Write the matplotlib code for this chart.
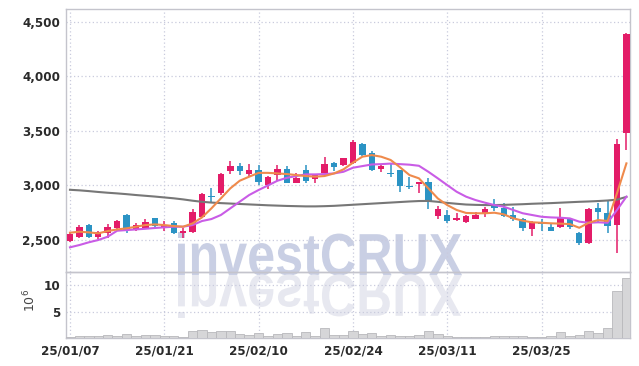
import matplotlib
matplotlib.use("Agg")
import matplotlib.pyplot as plt
import numpy as np
from matplotlib import font_manager as fm
from matplotlib.textpath import TextPath
from matplotlib.patches import PathPatch
from matplotlib.font_manager import FontProperties
from matplotlib.transforms import Affine2D

# ===== DADOS =====
abertura = [2494, 2530, 2637, 2530, 2560, 2610, 2730, 2600, 2607, 2700,
            2610, 2655, 2560, 2576, 2710, 2905, 2928, 3135, 3180, 3105,
            3140, 3000, 3093, 3148, 3025, 3140, 3063, 3115, 3207, 3185,
            3203, 3380, 3294, 3153, 3115, 3140, 2995, 3015, 3035, 2722,
            2730, 2680, 2663, 2695, 2738, 2820, 2796, 2730, 2690, 2600,
            2668, 2617, 2622, 2690, 2560, 2475, 2790, 2750, 2637, 3480]
maxima = [2560, 2635, 2645, 2585, 2645, 2680, 2740, 2655, 2690, 2705,
          2675, 2670, 2612, 2780, 2930, 2980, 3115, 3225, 3205, 3195,
          3190, 3085, 3187, 3177, 3115, 3187, 3100, 3258, 3215, 3255,
          3415, 3390, 3318, 3185, 3208, 3145, 3080, 3035, 3065, 2810,
          2775, 2745, 2730, 2760, 2805, 2872, 2836, 2800, 2700, 2670,
          2690, 2650, 2790, 2700, 2570, 2790, 2836, 2866, 3425, 4395]
minima = [2485, 2520, 2515, 2512, 2515, 2600, 2560, 2585, 2600, 2610,
          2585, 2555, 2515, 2565, 2700, 2835, 2915, 3105, 3095, 3085,
          3000, 2965, 3043, 3020, 3020, 3025, 3020, 3110, 3135, 3180,
          3200, 3270, 3135, 3125, 3080, 2943, 2970, 2935, 2785, 2690,
          2660, 2670, 2655, 2690, 2713, 2768, 2713, 2670, 2585, 2537,
          2585, 2580, 2610, 2598, 2455, 2465, 2668, 2560, 2378, 3325]
fechamento = [2555, 2615, 2530, 2570, 2615, 2675, 2595, 2640, 2665, 2630,
              2637, 2560, 2585, 2760, 2920, 2895, 3105, 3177, 3135, 3140,
              3035, 3075, 3148, 3025, 3065, 3043, 3093, 3195, 3170, 3248,
              3395, 3278, 3140, 3177, 3107, 2997, 2985, 3030, 2845, 2784,
              2677, 2700, 2720, 2730, 2780, 2790, 2724, 2690, 2607, 2662,
              2645, 2585, 2700, 2617, 2470, 2780, 2760, 2632, 3380, 4390]

# medias moveis
mm_curta = [2567, 2576, 2570, 2561, 2582, 2597, 2607, 2622, 2637, 2643,
            2637, 2628, 2622, 2652, 2707, 2790, 2881, 2973, 3043, 3080,
            3115, 3115, 3110, 3104, 3095, 3086, 3080, 3086, 3110, 3147,
            3208, 3263, 3278, 3263, 3233, 3166, 3095, 3065, 2973, 2881,
            2820, 2775, 2748, 2745, 2745, 2750, 2735, 2699, 2677, 2662,
            2658, 2653, 2650, 2646, 2612, 2658, 2683, 2674, 2928, 3202]
mm_media = [2433, 2454, 2479, 2500, 2530, 2585, 2591, 2597, 2603, 2610,
            2616, 2622, 2622, 2637, 2674, 2692, 2729, 2790, 2851, 2912,
            2958, 3000, 3043, 3070, 3086, 3101, 3101, 3104, 3110, 3125,
            3162, 3177, 3192, 3195, 3200, 3195, 3190, 3180, 3125, 3065,
            3003, 2942, 2897, 2866, 2842, 2820, 2805, 2775, 2745, 2729,
            2713, 2707, 2704, 2698, 2668, 2658, 2662, 2658, 2775, 2897]
mm_longa = [2960, 2955, 2948, 2940, 2933, 2927, 2920, 2912, 2905, 2898,
            2890, 2882, 2872, 2860, 2850, 2843, 2838, 2834, 2830, 2826,
            2822, 2818, 2815, 2812, 2810, 2808, 2808, 2810, 2813, 2818,
            2823, 2828, 2833, 2838, 2843, 2848, 2853, 2857, 2858, 2850,
            2840, 2832, 2825, 2822, 2820, 2820, 2822, 2825, 2828, 2832,
            2835, 2838, 2842, 2846, 2850, 2853, 2857, 2862, 2870, 2895]

volume = [0.2, 0.4, 0.4, 0.4, 0.6, 0.4, 0.8, 0.45, 0.6, 0.6,
          0.45, 0.4, 0.2, 1.35, 1.55, 1.2, 1.35, 1.35, 0.85, 0.6,
          0.95, 0.4, 0.85, 0.95, 0.4, 1.15, 0.45, 1.9, 0.6, 0.6,
          1.35, 0.85, 0.95, 0.45, 0.65, 0.4, 0.4, 0.65, 1.35, 0.85,
          0.45, 0.2, 0.2, 0.2, 0.2, 0.4, 0.4, 0.4, 0.4, 0.2,
          0.2, 0.45, 1.15, 0.4, 0.65, 1.35, 0.95, 1.84, 8.9, 11.35]

pos_datas = [0, 10, 20, 30, 40, 50]
rotulos_datas = ["25/01/07", "25/01/21", "25/02/10", "25/02/24", "25/03/11", "25/03/25"]
ticks_preco = [2500, 3000, 3500, 4000, 4500]
ticks_volume = [5, 10]

# ===== ESTILO =====
cor_alta = "#e31c68"
cor_baixa = "#2b93c4"
cor_grade = "#c9cbdd"
cor_borda = "#c4c4cc"

# fonte estreita para os rotulos, se existir
nomes = {f.name for f in fm.fontManager.ttflist}
condensadas = [f.fname for f in fm.fontManager.ttflist
               if "Condensed" in f.fname and "Bold" in f.fname
               and "Oblique" not in f.fname and "Italic" not in f.fname]
if "Liberation Sans Narrow" in nomes:
    fp_rot = FontProperties(family="Liberation Sans Narrow", weight="bold", size=10.5)
elif condensadas:
    fp_rot = FontProperties(fname=sorted(condensadas)[0], size=9.5)
else:
    fp_rot = FontProperties(family="DejaVu Sans", weight="bold", size=8.5)

W, H = 639, 366
fig = plt.figure(figsize=(W / 100, H / 100), dpi=100)

# marca d'agua no fundo
fundo = fig.add_axes([0, 0, 1, 1], zorder=0)
fundo.set_xlim(0, W)
fundo.set_ylim(H, 0)
fundo.axis("off")
fam_marca = "Liberation Sans" if "Liberation Sans" in nomes else "DejaVu Sans"
fp = FontProperties(family=fam_marca, weight="bold")
tp = TextPath((0, 0), "investCRUX", size=10, prop=fp)
bb = tp.get_extents()
sx = 284 / bb.width
sy = 43 / bb.y1
x0 = 178
base = 275
t_main = Affine2D().translate(-bb.x0, 0).scale(sx, -sy).translate(x0, base)
fundo.add_patch(PathPatch(t_main.transform_path(tp), facecolor="#c9cfe4",
                          edgecolor="none"))
t_refl = Affine2D().translate(-bb.x0, 0).scale(sx, sy).translate(x0, base)
fundo.add_patch(PathPatch(t_refl.transform_path(tp), facecolor="#e7e8f0",
                          edgecolor="none"))

left = 66 / W
width = (630 - 66) / W
ax = fig.add_axes([left, (H - 272) / H, width, (272 - 9) / H], zorder=1)
axv = fig.add_axes([left, (H - 338) / H, width, (338 - 272) / H], zorder=1, sharex=ax)
for a in (ax, axv):
    a.set_facecolor("none")
    for s in a.spines.values():
        s.set_color(cor_borda)
        s.set_linewidth(1)
    a.grid(True, color=cor_grade, linestyle=(0, (1, 2)), linewidth=0.9)
    a.set_axisbelow(True)
    a.tick_params(length=0, colors="#2a2a2a")

x = np.arange(len(abertura))
ab = np.array(abertura)
fe = np.array(fechamento)
cores = [cor_alta if c >= o else cor_baixa for o, c in zip(abertura, fechamento)]

# ===== GRAFICO =====
ax.vlines(x, minima, maxima, colors=cores, linewidth=1.1, zorder=3)
altura = np.maximum(np.abs(fe - ab), 6)
base_corpo = np.minimum(ab, fe) - (altura - np.abs(fe - ab)) / 2
ax.bar(x, altura, bottom=base_corpo, width=0.68, color=cores, zorder=4)

ax.plot(x, mm_longa, color="#777777", linewidth=1.5, zorder=5)
ax.plot(x, mm_media, color="#c95ce6", linewidth=1.5, zorder=5)
ax.plot(x, mm_curta, color="#ef8a4c", linewidth=1.5, zorder=6)

ax.set_xlim(-0.42, 59.38)
ax.set_ylim(2207, 4616)
ax.set_yticks(ticks_preco)
ax.set_yticklabels([f"{v:,}" for v in ticks_preco], fontproperties=fp_rot)
ax.tick_params(axis="y", pad=4)
ax.tick_params(axis="x", labelbottom=False)
ax.set_xticks(pos_datas)

axv.bar(x, volume, width=1.0, color="#d6d6d8", edgecolor="#b8b8bc", linewidth=0.6, zorder=3)
axv.set_ylim(0, 12.5)
axv.set_yticks(ticks_volume)
axv.set_yticklabels([str(v) for v in ticks_volume], fontproperties=fp_rot)
axv.tick_params(axis="y", pad=4)
axv.set_xticks(pos_datas)
axv.set_xticklabels(rotulos_datas, fontproperties=fp_rot)
axv.tick_params(axis="x", pad=5)
fig.text(30 / W, 1 - 300 / H, r"$10^6$", rotation=90, ha="center", va="center",
         fontsize=9, color="#444444")

# ===== SALVAR =====
fig.savefig("out.png", dpi=100)
print("Grafico salvo em: out.png")
